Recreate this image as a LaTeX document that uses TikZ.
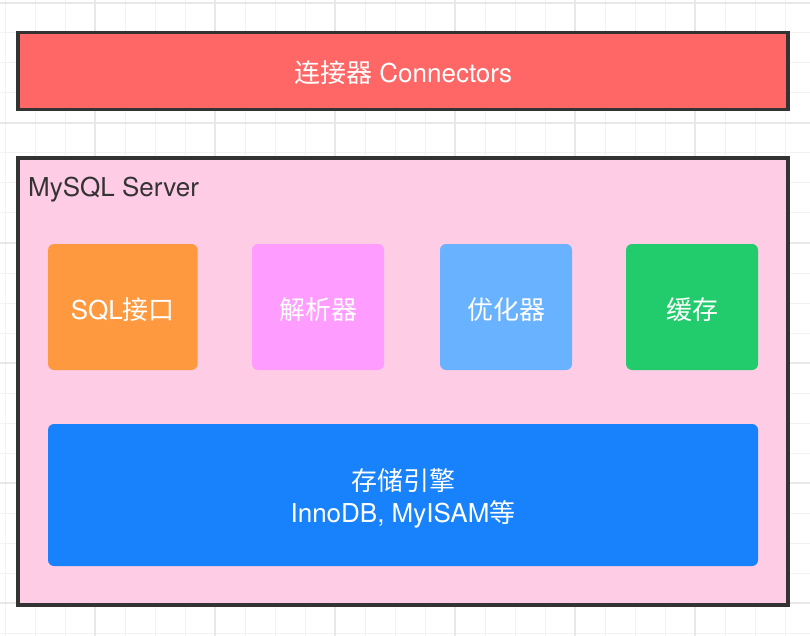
\documentclass[tikz,border=0pt]{standalone}
\usepackage{fontspec}
\setmainfont{TeX Gyre Heros}
\newfontfamily\cjk{Noto Sans CJK SC}
\usepackage{xcolor}
\usepackage{tikz}

\definecolor{gridminor}{HTML}{F2F2F2}
\definecolor{gridmajor}{HTML}{E8E8E8}
\definecolor{edge}{HTML}{333333}
\definecolor{connred}{HTML}{FF6666}
\definecolor{serverpink}{HTML}{FFCCE6}
\definecolor{sqlorange}{HTML}{FF9940}
\definecolor{parserpink}{HTML}{FF9CFF}
\definecolor{optblue}{HTML}{68B2FF}
\definecolor{cachegreen}{HTML}{22CC6C}
\definecolor{engineblue}{HTML}{1782FB}

\begin{document}
\begin{tikzpicture}[x=1pt, y=-1pt,
  frame/.style={draw=edge, line width=3.5pt, inner sep=0pt},
  module/.style={rounded corners=6pt, inner sep=0pt, minimum height=126pt},
  modtext/.style={text=white, font=\fontsize{26}{32}\selectfont,
    align=center, inner sep=0pt, yshift=-2.5pt},
  gridline/.style={gridminor, line width=1pt},
  gridbold/.style={gridmajor, line width=1.3pt}]
\useasboundingbox (0,0) rectangle (810,636);

% Background grid
\foreach \x in {5,35,...,785} \draw[gridline] (\x,0) -- (\x,636);
\foreach \y in {3,33,...,633} \draw[gridline] (0,\y) -- (810,\y);
\foreach \x in {95,215,...,695} \draw[gridbold] (\x,0) -- (\x,636);
\foreach \y in {3,123,...,603} \draw[gridbold] (0,\y) -- (810,\y);

% Connectors
\node[frame, fill=connred, minimum width=770pt, minimum height=77pt,
  label={[modtext, yshift=1.5pt]center:{{\cjk 连接器} Connectors}}] (conn) at (403.2,71.2) {};

% Server
\node[frame, fill=serverpink, minimum width=770pt, minimum height=447pt] (server) at (403.2,381.5) {};
\node[anchor=base west, inner sep=0pt, text=edge,
  font=\fontsize{26}{31}\selectfont] (title) at (28,196.5) {MySQL Server};

% Modules
\node[module, fill=sqlorange, minimum width=149.5pt,
  label={[modtext]center:{SQL{\cjk 接口}}}] (sqlapi) at (122.8,307) {};
\node[module, fill=parserpink, minimum width=132pt,
  label={[modtext]center:{\cjk 解析器}}] (parser) at (318,307) {};
\node[module, fill=optblue, minimum width=132pt,
  label={[modtext]center:{\cjk 优化器}}] (optimizer) at (506,307) {};
\node[module, fill=cachegreen, minimum width=132pt,
  label={[modtext]center:{\cjk 缓存}}] (cache) at (692,307) {};

% Storage engine
\node[module, fill=engineblue, minimum width=710pt, minimum height=142pt,
  label={[modtext, yshift=-0.5pt]center:{{\cjk 存储引擎}\\InnoDB, MyISAM{\cjk 等}}}] (engine) at (403,495) {};
\end{tikzpicture}
\end{document}
